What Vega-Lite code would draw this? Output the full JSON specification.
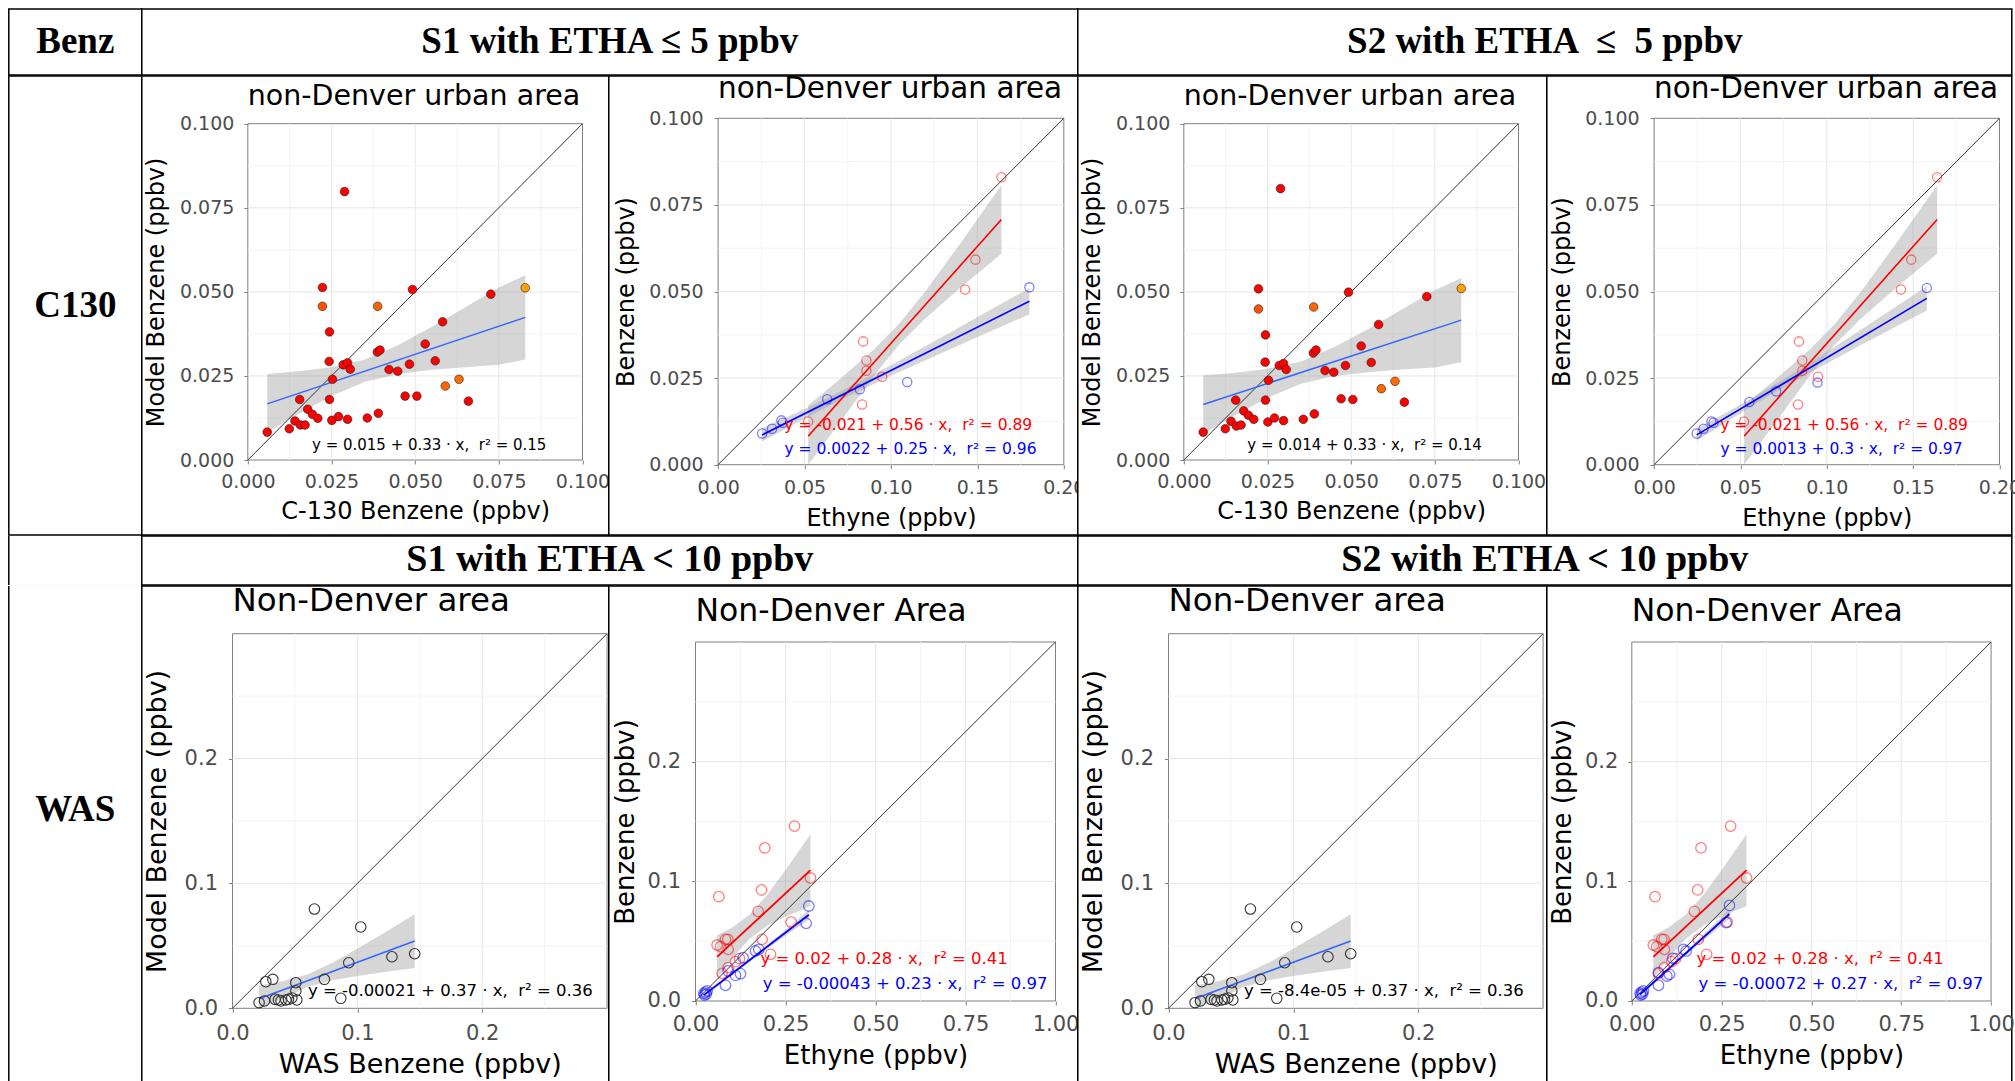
{
"$schema": "https://vega.github.io/schema/vega-lite/v6.json",
"background": "white",
"padding": {"left": 7.8, "top": 8, "right": 0, "bottom": 0},
"spacing": -6,
"config": {
  "font": "DejaVu Sans",
  "view": {"stroke": "#000000", "strokeWidth": 1.5, "fill": "white"},
  "axis": {"domain": false, "grid": false, "tickColor": "#7f7f7f", "tickSize": 4, "tickWidth": 1, "labelColor": "#4d4d4d", "labelFont": "DejaVu Sans", "titleFont": "DejaVu Sans", "titleFontWeight": "normal", "titleColor": "#000000", "labelFlush": false, "labelOverlap": false},
  "title": {"font": "DejaVu Sans", "fontWeight": "normal", "color": "#000000", "anchor": "start", "frame": "group", "baseline": "alphabetic"}
},
"datasets": {
  "g1": [{"v":0.0125,"k":"minor"},{"v":0.025,"k":"major"},{"v":0.0375,"k":"minor"},{"v":0.05,"k":"major"},{"v":0.0625,"k":"minor"},{"v":0.075,"k":"major"},{"v":0.0875,"k":"minor"}],
  "g2x": [{"v":0.025,"k":"minor"},{"v":0.05,"k":"major"},{"v":0.075,"k":"minor"},{"v":0.1,"k":"major"},{"v":0.125,"k":"minor"},{"v":0.15,"k":"major"},{"v":0.175,"k":"minor"}],
  "g5": [{"v":0.05,"k":"minor"},{"v":0.1,"k":"major"},{"v":0.15,"k":"minor"},{"v":0.2,"k":"major"},{"v":0.25,"k":"minor"}],
  "g6x": [{"v":0.125,"k":"minor"},{"v":0.25,"k":"major"},{"v":0.375,"k":"minor"},{"v":0.5,"k":"major"},{"v":0.625,"k":"minor"},{"v":0.75,"k":"major"},{"v":0.875,"k":"minor"}],
  "p1": [{"x":0.0058,"y":0.0083,"z":0},{"x":0.0124,"y":0.0093,"z":0},{"x":0.0141,"y":0.0116,"z":0},{"x":0.0155,"y":0.0180,"z":0},{"x":0.0157,"y":0.0104,"z":0},{"x":0.0171,"y":0.0104,"z":0},{"x":0.0179,"y":0.0151,"z":0},{"x":0.0193,"y":0.0136,"z":0},{"x":0.0209,"y":0.0124,"z":0},{"x":0.0223,"y":0.0513,"z":0},{"x":0.0223,"y":0.0457,"z":0.3},{"x":0.0244,"y":0.0381,"z":0},{"x":0.0243,"y":0.0293,"z":0},{"x":0.0244,"y":0.0180,"z":0},{"x":0.0253,"y":0.0240,"z":0},{"x":0.0251,"y":0.0118,"z":0},{"x":0.0271,"y":0.0129,"z":0},{"x":0.0289,"y":0.0798,"z":0},{"x":0.0285,"y":0.0283,"z":0},{"x":0.0298,"y":0.0289,"z":0},{"x":0.0306,"y":0.0270,"z":0},{"x":0.0298,"y":0.0121,"z":0},{"x":0.0357,"y":0.0125,"z":0},{"x":0.0388,"y":0.0457,"z":0.45},{"x":0.0387,"y":0.0321,"z":0},{"x":0.0395,"y":0.0327,"z":0},{"x":0.0390,"y":0.0139,"z":0},{"x":0.0422,"y":0.0269,"z":0},{"x":0.0448,"y":0.0264,"z":0},{"x":0.0470,"y":0.0190,"z":0},{"x":0.0483,"y":0.0285,"z":0},{"x":0.0492,"y":0.0507,"z":0},{"x":0.0505,"y":0.0190,"z":0},{"x":0.0530,"y":0.0345,"z":0},{"x":0.0560,"y":0.0295,"z":0},{"x":0.0582,"y":0.0411,"z":0},{"x":0.0590,"y":0.0220,"z":0.45},{"x":0.0631,"y":0.0240,"z":0.5},{"x":0.0659,"y":0.0175,"z":0},{"x":0.0726,"y":0.0493,"z":0},{"x":0.0829,"y":0.0512,"z":1}],
  "p3": [{"x":0.0058,"y":0.0083,"z":0},{"x":0.0124,"y":0.0093,"z":0},{"x":0.0141,"y":0.0115,"z":0},{"x":0.0155,"y":0.0178,"z":0},{"x":0.0157,"y":0.0101,"z":0},{"x":0.0171,"y":0.0104,"z":0},{"x":0.0179,"y":0.0146,"z":0},{"x":0.0193,"y":0.0133,"z":0},{"x":0.0209,"y":0.0121,"z":0},{"x":0.0223,"y":0.0509,"z":0},{"x":0.0223,"y":0.0449,"z":0.3},{"x":0.0244,"y":0.0372,"z":0},{"x":0.0243,"y":0.0291,"z":0},{"x":0.0244,"y":0.0178,"z":0},{"x":0.0253,"y":0.0237,"z":0},{"x":0.0251,"y":0.0113,"z":0},{"x":0.0271,"y":0.0125,"z":0},{"x":0.0289,"y":0.0807,"z":0},{"x":0.0285,"y":0.0281,"z":0},{"x":0.0298,"y":0.0287,"z":0},{"x":0.0306,"y":0.0269,"z":0},{"x":0.0298,"y":0.0117,"z":0},{"x":0.0357,"y":0.0121,"z":0},{"x":0.0388,"y":0.0455,"z":0.45},{"x":0.0387,"y":0.0318,"z":0},{"x":0.0395,"y":0.0327,"z":0},{"x":0.0390,"y":0.0137,"z":0},{"x":0.0422,"y":0.0266,"z":0},{"x":0.0448,"y":0.0261,"z":0},{"x":0.0470,"y":0.0182,"z":0},{"x":0.0483,"y":0.0281,"z":0},{"x":0.0492,"y":0.0499,"z":0},{"x":0.0505,"y":0.0180,"z":0},{"x":0.0530,"y":0.0339,"z":0},{"x":0.0560,"y":0.0290,"z":0},{"x":0.0582,"y":0.0403,"z":0},{"x":0.0590,"y":0.0212,"z":0.45},{"x":0.0631,"y":0.0234,"z":0.5},{"x":0.0659,"y":0.0172,"z":0},{"x":0.0726,"y":0.0486,"z":0},{"x":0.0829,"y":0.0510,"z":1}],
  "p2c": [{"g":"red","x":0.0521,"y":0.0125},{"g":"red","x":0.0833,"y":0.0174},{"g":"red","x":0.0839,"y":0.0356},{"g":"red","x":0.0858,"y":0.0301},{"g":"red","x":0.0858,"y":0.0271},{"g":"red","x":0.0949,"y":0.0254},{"g":"red","x":0.1429,"y":0.0506},{"g":"red","x":0.1489,"y":0.0592},{"g":"red","x":0.1639,"y":0.0830},{"g":"blue","x":0.0255,"y":0.0090},{"g":"blue","x":0.0312,"y":0.0104},{"g":"blue","x":0.0366,"y":0.0128},{"g":"blue","x":0.0374,"y":0.0121},{"g":"blue","x":0.0631,"y":0.0189},{"g":"blue","x":0.0820,"y":0.0218},{"g":"blue","x":0.1094,"y":0.0239},{"g":"blue","x":0.1801,"y":0.0512}],
  "p4c": [{"g":"red","x":0.0521,"y":0.0125},{"g":"red","x":0.0833,"y":0.0174},{"g":"red","x":0.0839,"y":0.0356},{"g":"red","x":0.0858,"y":0.0301},{"g":"red","x":0.0858,"y":0.0271},{"g":"red","x":0.0949,"y":0.0254},{"g":"red","x":0.1429,"y":0.0506},{"g":"red","x":0.1489,"y":0.0592},{"g":"red","x":0.1639,"y":0.0830},{"g":"blue","x":0.0247,"y":0.0090},{"g":"blue","x":0.0286,"y":0.0104},{"g":"blue","x":0.0332,"y":0.0125},{"g":"blue","x":0.0344,"y":0.0121},{"g":"blue","x":0.0552,"y":0.0181},{"g":"blue","x":0.0707,"y":0.0212},{"g":"blue","x":0.0946,"y":0.0237},{"g":"blue","x":0.1579,"y":0.0510}],
  "p57": [{"x":0.0213,"y":0.0045},{"x":0.0256,"y":0.0059},{"x":0.0267,"y":0.0213},{"x":0.0323,"y":0.0232},{"x":0.0341,"y":0.0072},{"x":0.0368,"y":0.0067},{"x":0.0389,"y":0.0059},{"x":0.0427,"y":0.0067},{"x":0.0448,"y":0.0072},{"x":0.0475,"y":0.0083},{"x":0.0507,"y":0.0205},{"x":0.0507,"y":0.0139},{"x":0.0515,"y":0.0067},{"x":0.0656,"y":0.0795},{"x":0.0736,"y":0.0232},{"x":0.0867,"y":0.0080},{"x":0.0931,"y":0.0365},{"x":0.1027,"y":0.0651},{"x":0.1277,"y":0.0413},{"x":0.1459,"y":0.0437}],
  "p57b": [{"x":0.0213,"lo":0.0,"hi":0.0183},{"x":0.04,"lo":0.0076,"hi":0.0216},{"x":0.06,"lo":0.0170,"hi":0.0270},{"x":0.08,"lo":0.0224,"hi":0.0364},{"x":0.10,"lo":0.0259,"hi":0.0477},{"x":0.12,"lo":0.0288,"hi":0.0596},{"x":0.1459,"lo":0.0323,"hi":0.0753}],
  "p6c": [{"g":"red","x":0.0648,"y":0.0872},{"g":"red","x":0.0600,"y":0.0468},{"g":"red","x":0.0694,"y":0.0454},{"g":"red","x":0.0833,"y":0.0515},{"g":"red","x":0.0898,"y":0.0515},{"g":"red","x":0.0907,"y":0.0432},{"g":"red","x":0.0741,"y":0.0231},{"g":"red","x":0.0907,"y":0.0279},{"g":"red","x":0.1111,"y":0.0329},{"g":"red","x":0.1222,"y":0.0354},{"g":"red","x":0.1741,"y":0.0749},{"g":"red","x":0.1833,"y":0.0928},{"g":"red","x":0.1926,"y":0.1279},{"g":"red","x":0.1852,"y":0.0515},{"g":"red","x":0.2083,"y":0.0390},{"g":"red","x":0.2657,"y":0.0660},{"g":"red","x":0.2750,"y":0.1462},{"g":"red","x":0.3194,"y":0.1028},{"g":"blue","x":0.0231,"y":0.0064},{"g":"blue","x":0.0278,"y":0.0075},{"g":"blue","x":0.0324,"y":0.0084},{"g":"blue","x":0.0250,"y":0.0050},{"g":"blue","x":0.0300,"y":0.0058},{"g":"blue","x":0.0833,"y":0.0131},{"g":"blue","x":0.0907,"y":0.0251},{"g":"blue","x":0.1111,"y":0.0214},{"g":"blue","x":0.1250,"y":0.0228},{"g":"blue","x":0.1324,"y":0.0362},{"g":"blue","x":0.1667,"y":0.0418},{"g":"blue","x":0.1759,"y":0.0432},{"g":"blue","x":0.3074,"y":0.0649},{"g":"blue","x":0.3148,"y":0.0794}],
  "p8c": [{"g":"red","x":0.0648,"y":0.0872},{"g":"red","x":0.0600,"y":0.0468},{"g":"red","x":0.0694,"y":0.0454},{"g":"red","x":0.0833,"y":0.0515},{"g":"red","x":0.0898,"y":0.0515},{"g":"red","x":0.0907,"y":0.0432},{"g":"red","x":0.0741,"y":0.0231},{"g":"red","x":0.0907,"y":0.0279},{"g":"red","x":0.1111,"y":0.0329},{"g":"red","x":0.1222,"y":0.0354},{"g":"red","x":0.1741,"y":0.0749},{"g":"red","x":0.1833,"y":0.0928},{"g":"red","x":0.1926,"y":0.1279},{"g":"red","x":0.1852,"y":0.0515},{"g":"red","x":0.2083,"y":0.0390},{"g":"red","x":0.2657,"y":0.0660},{"g":"red","x":0.2750,"y":0.1462},{"g":"red","x":0.3194,"y":0.1028},{"g":"blue","x":0.0231,"y":0.0064},{"g":"blue","x":0.0278,"y":0.0075},{"g":"blue","x":0.0324,"y":0.0084},{"g":"blue","x":0.0250,"y":0.0050},{"g":"blue","x":0.0300,"y":0.0058},{"g":"blue","x":0.0742,"y":0.0131},{"g":"blue","x":0.0742,"y":0.0237},{"g":"blue","x":0.0974,"y":0.0209},{"g":"blue","x":0.1048,"y":0.0223},{"g":"blue","x":0.1141,"y":0.0357},{"g":"blue","x":0.1438,"y":0.0432},{"g":"blue","x":0.1512,"y":0.0418},{"g":"blue","x":0.2625,"y":0.0655},{"g":"blue","x":0.2718,"y":0.0799}]
},
"vconcat": [
 {"hconcat": [
   {"width": 133, "height": 66, "data": {"values": [{"t": "Benz"}]}, "mark": {"type": "text", "font": "Liberation Serif", "fontWeight": "bold", "fontSize": 37, "align": "center", "baseline": "middle"},
    "encoding": {"text": {"field": "t"}, "x": {"datum": 0.5, "type": "quantitative", "scale": {"domain": [0, 1]}, "axis": null}, "y": {"datum": 0.5, "type": "quantitative", "scale": {"domain": [0, 1]}, "axis": null}}},
   {"width": 936, "height": 66, "data": {"values": [{"t": "S1 with ETHA ≤ 5 ppbv"}]}, "mark": {"type": "text", "font": "Liberation Serif", "fontWeight": "bold", "fontSize": 37, "align": "center", "baseline": "middle"},
    "encoding": {"text": {"field": "t"}, "x": {"datum": 0.5, "type": "quantitative", "scale": {"domain": [0, 1]}, "axis": null}, "y": {"datum": 0.5, "type": "quantitative", "scale": {"domain": [0, 1]}, "axis": null}}},
   {"width": 934, "height": 66, "data": {"values": [{"t": "S2 with ETHA \u00a0≤\u00a0 5 ppbv"}]}, "mark": {"type": "text", "font": "Liberation Serif", "fontWeight": "bold", "fontSize": 37, "align": "center", "baseline": "middle"},
    "encoding": {"text": {"field": "t"}, "x": {"datum": 0.5, "type": "quantitative", "scale": {"domain": [0, 1]}, "axis": null}, "y": {"datum": 0.5, "type": "quantitative", "scale": {"domain": [0, 1]}, "axis": null}}}
 ], "spacing": 0, "bounds": "flush"},
 {"hconcat": [
   {"width": 133, "height": 459, "data": {"values": [{"t": "C130"}]}, "mark": {"type": "text", "font": "Liberation Serif", "fontWeight": "bold", "fontSize": 37, "align": "center", "baseline": "middle"},
    "encoding": {"text": {"field": "t"}, "x": {"datum": 0.5, "type": "quantitative", "scale": {"domain": [0, 1]}, "axis": null}, "y": {"datum": 0.5, "type": "quantitative", "scale": {"domain": [0, 1]}, "axis": null}}},
   {"width": 467, "height": 459,
    "title": {"text": "non-Denver urban area", "dx": 106, "offset": -34.6, "fontSize": 28.5},
    "layer": [
     {"data": {"values": [{"x0": 0, "x1": 0.1, "y0": 0, "y1": 0.1}]}, "mark": {"type": "rect", "filled": false, "color": "#7f7f7f", "strokeWidth": 1},
      "encoding": {
       "x": {"field": "x0", "type": "quantitative", "scale": {"domain": [0, 0.1], "range": [106, 440.7], "nice": false, "zero": false}, "axis": {"title": "C-130 Benzene (ppbv)", "offset": -75, "values": [0, 0.025, 0.05, 0.075, 0.1], "format": ".3f", "labelFontSize": 19, "labelPadding": 8, "titleFontSize": 24, "titlePadding": 8.5}},
       "x2": {"field": "x1"},
       "y": {"field": "y0", "type": "quantitative", "scale": {"domain": [0, 0.1], "range": [384, 47.7], "nice": false, "zero": false}, "axis": {"title": "Model Benzene (ppbv)", "offset": -106, "values": [0, 0.025, 0.05, 0.075, 0.1], "format": ".3f", "labelFontSize": 19, "labelPadding": 10, "titleFontSize": 24, "titlePadding": 10.5}},
       "y2": {"field": "y1"}}},
     {"data": {"name": "g1"}, "mark": {"type": "rule", "strokeWidth": 1},
      "encoding": {"x": {"field": "v", "type": "quantitative"}, "y": {"datum": 0, "type": "quantitative"}, "y2": {"datum": 0.1}, "stroke": {"field": "k", "type": "nominal", "scale": {"domain": ["major", "minor"], "range": ["#e6e6e6", "#f3f3f3"]}, "legend": null}}},
     {"data": {"name": "g1"}, "mark": {"type": "rule", "strokeWidth": 1},
      "encoding": {"y": {"field": "v", "type": "quantitative"}, "x": {"datum": 0, "type": "quantitative"}, "x2": {"datum": 0.1}, "stroke": {"field": "k", "type": "nominal", "scale": {"domain": ["major", "minor"], "range": ["#e6e6e6", "#f3f3f3"]}, "legend": null}}},
     {"data": {"values": [{"x": 0.0058, "lo": 0.0082, "hi": 0.0256}, {"x": 0.015, "lo": 0.0136, "hi": 0.0264}, {"x": 0.025, "lo": 0.0190, "hi": 0.0276}, {"x": 0.035, "lo": 0.0233, "hi": 0.0299}, {"x": 0.045, "lo": 0.0256, "hi": 0.0342}, {"x": 0.055, "lo": 0.0268, "hi": 0.0396}, {"x": 0.065, "lo": 0.0276, "hi": 0.0454}, {"x": 0.075, "lo": 0.0283, "hi": 0.0513}, {"x": 0.0829, "lo": 0.0299, "hi": 0.0549}]},
      "mark": {"type": "area", "color": "#999999", "opacity": 0.4},
      "encoding": {"x": {"field": "x", "type": "quantitative"}, "y": {"field": "lo", "type": "quantitative"}, "y2": {"field": "hi"}}},
     {"data": {"values": [{"x": 0, "y": 0, "x2": 0.1, "y2": 0.1}]}, "mark": {"type": "rule", "color": "#333333", "strokeWidth": 1},
      "encoding": {"x": {"field": "x", "type": "quantitative"}, "y": {"field": "y", "type": "quantitative"}, "x2": {"field": "x2"}, "y2": {"field": "y2"}}},
     {"data": {"values": [{"x": 0.0058, "y": 0.0167}, {"x": 0.0829, "y": 0.0424}]}, "mark": {"type": "line", "color": "#3366ff", "strokeWidth": 1.5},
      "encoding": {"x": {"field": "x", "type": "quantitative"}, "y": {"field": "y", "type": "quantitative"}}},
     {"data": {"name": "p1"}, "mark": {"type": "point", "filled": true, "size": 75, "stroke": "#222222", "strokeWidth": 0.6, "opacity": 1},
      "encoding": {"x": {"field": "x", "type": "quantitative"}, "y": {"field": "y", "type": "quantitative"}, "fill": {"field": "z", "type": "quantitative", "scale": {"domain": [0, 1], "range": ["#ff0000", "#ffa000"]}, "legend": null}}},
     {"data": {"values": [{"x": 0.0542, "y": 0.0045, "t": "y = 0.015 + 0.33 · x,\u00a0 r² = 0.15"}]}, "mark": {"type": "text", "fontSize": 15, "align": "center", "baseline": "middle", "color": "#000000"},
      "encoding": {"x": {"field": "x", "type": "quantitative"}, "y": {"field": "y", "type": "quantitative"}, "text": {"field": "t"}}}
    ]},
   {"width": 469, "height": 459,
    "title": {"text": "non-Denver urban area", "dx": 109.3, "offset": -28.9, "fontSize": 29.5},
    "layer": [
     {"data": {"values": [{"x0": 0, "x1": 0.2, "y0": 0, "y1": 0.1}]}, "mark": {"type": "rect", "filled": false, "color": "#7f7f7f", "strokeWidth": 1},
      "encoding": {
       "x": {"field": "x0", "type": "quantitative", "scale": {"domain": [0, 0.2], "range": [109.3, 455], "nice": false, "zero": false}, "axis": {"title": "Ethyne (ppbv)", "offset": -70.3, "values": [0, 0.05, 0.1, 0.15, 0.2], "format": ".2f", "labelFontSize": 19, "labelPadding": 10, "titleFontSize": 24, "titlePadding": 8.7}},
       "x2": {"field": "x1"},
       "y": {"field": "y0", "type": "quantitative", "scale": {"domain": [0, 0.1], "range": [388.7, 42.3], "nice": false, "zero": false}, "axis": {"title": "Benzene (ppbv)", "offset": -109.3, "values": [0, 0.025, 0.05, 0.075, 0.1], "format": ".3f", "labelFontSize": 19, "labelPadding": 11, "titleFontSize": 24, "titlePadding": 10.5}},
       "y2": {"field": "y1"}}},
     {"data": {"name": "g2x"}, "mark": {"type": "rule", "strokeWidth": 1},
      "encoding": {"x": {"field": "v", "type": "quantitative"}, "y": {"datum": 0, "type": "quantitative"}, "y2": {"datum": 0.1}, "stroke": {"field": "k", "type": "nominal", "scale": {"domain": ["major", "minor"], "range": ["#e6e6e6", "#f3f3f3"]}, "legend": null}}},
     {"data": {"name": "g1"}, "mark": {"type": "rule", "strokeWidth": 1},
      "encoding": {"y": {"field": "v", "type": "quantitative"}, "x": {"datum": 0, "type": "quantitative"}, "x2": {"datum": 0.2}, "stroke": {"field": "k", "type": "nominal", "scale": {"domain": ["major", "minor"], "range": ["#e6e6e6", "#f3f3f3"]}, "legend": null}}},
     {"data": {"values": [{"g": "red", "x": 0.0521, "lo": 0.0, "hi": 0.0171}, {"g": "red", "x": 0.07, "lo": 0.0119, "hi": 0.0245}, {"g": "red", "x": 0.09, "lo": 0.0256, "hi": 0.0332}, {"g": "red", "x": 0.1046, "lo": 0.0346, "hi": 0.0406}, {"g": "red", "x": 0.12, "lo": 0.0423, "hi": 0.0501}, {"g": "red", "x": 0.14, "lo": 0.0510, "hi": 0.0638}, {"g": "red", "x": 0.1639, "lo": 0.0609, "hi": 0.0807}, {"g": "blue", "x": 0.0255, "lo": 0.0067, "hi": 0.0105}, {"g": "blue", "x": 0.05, "lo": 0.0133, "hi": 0.0161}, {"g": "blue", "x": 0.0707, "lo": 0.0187, "hi": 0.0211}, {"g": "blue", "x": 0.10, "lo": 0.0257, "hi": 0.0287}, {"g": "blue", "x": 0.13, "lo": 0.0324, "hi": 0.0370}, {"g": "blue", "x": 0.16, "lo": 0.0390, "hi": 0.0454}, {"g": "blue", "x": 0.1801, "lo": 0.0434, "hi": 0.0510}]},
      "mark": {"type": "area", "color": "#999999", "opacity": 0.4},
      "encoding": {"x": {"field": "x", "type": "quantitative"}, "y": {"field": "lo", "type": "quantitative"}, "y2": {"field": "hi"}, "detail": {"field": "g"}}},
     {"data": {"values": [{"x": 0, "y": 0, "x2": 0.2, "y2": 0.1}]}, "mark": {"type": "rule", "color": "#333333", "strokeWidth": 1},
      "encoding": {"x": {"field": "x", "type": "quantitative"}, "y": {"field": "y", "type": "quantitative"}, "x2": {"field": "x2"}, "y2": {"field": "y2"}}},
     {"data": {"values": [{"g": "red", "x": 0.0521, "y": 0.0082}, {"g": "red", "x": 0.1639, "y": 0.0708}, {"g": "blue", "x": 0.0255, "y": 0.0086}, {"g": "blue", "x": 0.1801, "y": 0.0472}]}, "mark": {"type": "line", "strokeWidth": 1.6},
      "encoding": {"x": {"field": "x", "type": "quantitative"}, "y": {"field": "y", "type": "quantitative"}, "color": {"field": "g", "type": "nominal", "scale": {"domain": ["red", "blue"], "range": ["#ff0000", "#0000ff"]}, "legend": null}}},
     {"data": {"name": "p2c"}, "mark": {"type": "point", "filled": false, "size": 85, "strokeWidth": 1.3, "opacity": 0.5},
      "encoding": {"x": {"field": "x", "type": "quantitative"}, "y": {"field": "y", "type": "quantitative"}, "color": {"field": "g", "type": "nominal", "scale": {"domain": ["red", "blue"], "range": ["#ff0000", "#0000ff"]}, "legend": null}}},
     {"data": {"values": [{"g": "red", "x": 0.110, "y": 0.0116, "t": "y = -0.021 + 0.56 · x,\u00a0 r² = 0.89"}, {"g": "blue", "x": 0.1113, "y": 0.0046, "t": "y = 0.0022 + 0.25 · x,\u00a0 r² = 0.96"}]}, "mark": {"type": "text", "fontSize": 15.5, "align": "center", "baseline": "middle"},
      "encoding": {"x": {"field": "x", "type": "quantitative"}, "y": {"field": "y", "type": "quantitative"}, "text": {"field": "t"}, "color": {"field": "g", "type": "nominal", "scale": {"domain": ["red", "blue"], "range": ["#ff0000", "#0000ff"]}, "legend": null}}}
    ]},
   {"width": 469, "height": 459,
    "title": {"text": "non-Denver urban area", "dx": 106, "offset": -34.6, "fontSize": 28.5},
    "layer": [
     {"data": {"values": [{"x0": 0, "x1": 0.1, "y0": 0, "y1": 0.1}]}, "mark": {"type": "rect", "filled": false, "color": "#7f7f7f", "strokeWidth": 1},
      "encoding": {
       "x": {"field": "x0", "type": "quantitative", "scale": {"domain": [0, 0.1], "range": [106, 440.7], "nice": false, "zero": false}, "axis": {"title": "C-130 Benzene (ppbv)", "offset": -75, "values": [0, 0.025, 0.05, 0.075, 0.1], "format": ".3f", "labelFontSize": 19, "labelPadding": 8, "titleFontSize": 24, "titlePadding": 8.5}},
       "x2": {"field": "x1"},
       "y": {"field": "y0", "type": "quantitative", "scale": {"domain": [0, 0.1], "range": [384, 47.7], "nice": false, "zero": false}, "axis": {"title": "Model Benzene (ppbv)", "offset": -106, "values": [0, 0.025, 0.05, 0.075, 0.1], "format": ".3f", "labelFontSize": 19, "labelPadding": 10, "titleFontSize": 24, "titlePadding": 10.5}},
       "y2": {"field": "y1"}}},
     {"data": {"name": "g1"}, "mark": {"type": "rule", "strokeWidth": 1},
      "encoding": {"x": {"field": "v", "type": "quantitative"}, "y": {"datum": 0, "type": "quantitative"}, "y2": {"datum": 0.1}, "stroke": {"field": "k", "type": "nominal", "scale": {"domain": ["major", "minor"], "range": ["#e6e6e6", "#f3f3f3"]}, "legend": null}}},
     {"data": {"name": "g1"}, "mark": {"type": "rule", "strokeWidth": 1},
      "encoding": {"y": {"field": "v", "type": "quantitative"}, "x": {"datum": 0, "type": "quantitative"}, "x2": {"datum": 0.1}, "stroke": {"field": "k", "type": "nominal", "scale": {"domain": ["major", "minor"], "range": ["#e6e6e6", "#f3f3f3"]}, "legend": null}}},
     {"data": {"values": [{"x": 0.0058, "lo": 0.0078, "hi": 0.0252}, {"x": 0.015, "lo": 0.0131, "hi": 0.0259}, {"x": 0.025, "lo": 0.0185, "hi": 0.0271}, {"x": 0.035, "lo": 0.0227, "hi": 0.0293}, {"x": 0.045, "lo": 0.0250, "hi": 0.0336}, {"x": 0.055, "lo": 0.0261, "hi": 0.0389}, {"x": 0.065, "lo": 0.0269, "hi": 0.0447}, {"x": 0.075, "lo": 0.0275, "hi": 0.0505}, {"x": 0.0829, "lo": 0.0291, "hi": 0.0541}]},
      "mark": {"type": "area", "color": "#999999", "opacity": 0.4},
      "encoding": {"x": {"field": "x", "type": "quantitative"}, "y": {"field": "lo", "type": "quantitative"}, "y2": {"field": "hi"}}},
     {"data": {"values": [{"x": 0, "y": 0, "x2": 0.1, "y2": 0.1}]}, "mark": {"type": "rule", "color": "#333333", "strokeWidth": 1},
      "encoding": {"x": {"field": "x", "type": "quantitative"}, "y": {"field": "y", "type": "quantitative"}, "x2": {"field": "x2"}, "y2": {"field": "y2"}}},
     {"data": {"values": [{"x": 0.0058, "y": 0.0165}, {"x": 0.0829, "y": 0.0416}]}, "mark": {"type": "line", "color": "#3366ff", "strokeWidth": 1.5},
      "encoding": {"x": {"field": "x", "type": "quantitative"}, "y": {"field": "y", "type": "quantitative"}}},
     {"data": {"name": "p3"}, "mark": {"type": "point", "filled": true, "size": 75, "stroke": "#222222", "strokeWidth": 0.6, "opacity": 1},
      "encoding": {"x": {"field": "x", "type": "quantitative"}, "y": {"field": "y", "type": "quantitative"}, "fill": {"field": "z", "type": "quantitative", "scale": {"domain": [0, 1], "range": ["#ff0000", "#ffa000"]}, "legend": null}}},
     {"data": {"values": [{"x": 0.054, "y": 0.0045, "t": "y = 0.014 + 0.33 · x,\u00a0 r² = 0.14"}]}, "mark": {"type": "text", "fontSize": 15, "align": "center", "baseline": "middle", "color": "#000000"},
      "encoding": {"x": {"field": "x", "type": "quantitative"}, "y": {"field": "y", "type": "quantitative"}, "text": {"field": "t"}}}
    ]},
   {"width": 465, "height": 459,
    "title": {"text": "non-Denver urban area", "dx": 107.3, "offset": -28.9, "fontSize": 29.5},
    "layer": [
     {"data": {"values": [{"x0": 0, "x1": 0.2, "y0": 0, "y1": 0.1}]}, "mark": {"type": "rect", "filled": false, "color": "#7f7f7f", "strokeWidth": 1},
      "encoding": {
       "x": {"field": "x0", "type": "quantitative", "scale": {"domain": [0, 0.2], "range": [107.3, 452.7], "nice": false, "zero": false}, "axis": {"title": "Ethyne (ppbv)", "offset": -70.3, "values": [0, 0.05, 0.1, 0.15, 0.2], "format": ".2f", "labelFontSize": 19, "labelPadding": 10, "titleFontSize": 24, "titlePadding": 8.7}},
       "x2": {"field": "x1"},
       "y": {"field": "y0", "type": "quantitative", "scale": {"domain": [0, 0.1], "range": [388.7, 42.3], "nice": false, "zero": false}, "axis": {"title": "Benzene (ppbv)", "offset": -107.3, "values": [0, 0.025, 0.05, 0.075, 0.1], "format": ".3f", "labelFontSize": 19, "labelPadding": 11, "titleFontSize": 24, "titlePadding": 10.5}},
       "y2": {"field": "y1"}}},
     {"data": {"name": "g2x"}, "mark": {"type": "rule", "strokeWidth": 1},
      "encoding": {"x": {"field": "v", "type": "quantitative"}, "y": {"datum": 0, "type": "quantitative"}, "y2": {"datum": 0.1}, "stroke": {"field": "k", "type": "nominal", "scale": {"domain": ["major", "minor"], "range": ["#e6e6e6", "#f3f3f3"]}, "legend": null}}},
     {"data": {"name": "g1"}, "mark": {"type": "rule", "strokeWidth": 1},
      "encoding": {"y": {"field": "v", "type": "quantitative"}, "x": {"datum": 0, "type": "quantitative"}, "x2": {"datum": 0.2}, "stroke": {"field": "k", "type": "nominal", "scale": {"domain": ["major", "minor"], "range": ["#e6e6e6", "#f3f3f3"]}, "legend": null}}},
     {"data": {"values": [{"g": "red", "x": 0.0521, "lo": 0.0, "hi": 0.0171}, {"g": "red", "x": 0.07, "lo": 0.0119, "hi": 0.0245}, {"g": "red", "x": 0.09, "lo": 0.0256, "hi": 0.0332}, {"g": "red", "x": 0.1046, "lo": 0.0346, "hi": 0.0406}, {"g": "red", "x": 0.12, "lo": 0.0423, "hi": 0.0501}, {"g": "red", "x": 0.14, "lo": 0.0510, "hi": 0.0638}, {"g": "red", "x": 0.1639, "lo": 0.0609, "hi": 0.0807}, {"g": "blue", "x": 0.0247, "lo": 0.0069, "hi": 0.0103}, {"g": "blue", "x": 0.045, "lo": 0.0133, "hi": 0.0159}, {"g": "blue", "x": 0.0624, "lo": 0.0187, "hi": 0.0209}, {"g": "blue", "x": 0.09, "lo": 0.0265, "hi": 0.0293}, {"g": "blue", "x": 0.12, "lo": 0.0346, "hi": 0.0390}, {"g": "blue", "x": 0.1579, "lo": 0.0445, "hi": 0.0515}]},
      "mark": {"type": "area", "color": "#999999", "opacity": 0.4},
      "encoding": {"x": {"field": "x", "type": "quantitative"}, "y": {"field": "lo", "type": "quantitative"}, "y2": {"field": "hi"}, "detail": {"field": "g"}}},
     {"data": {"values": [{"x": 0, "y": 0, "x2": 0.2, "y2": 0.1}]}, "mark": {"type": "rule", "color": "#333333", "strokeWidth": 1},
      "encoding": {"x": {"field": "x", "type": "quantitative"}, "y": {"field": "y", "type": "quantitative"}, "x2": {"field": "x2"}, "y2": {"field": "y2"}}},
     {"data": {"values": [{"g": "red", "x": 0.0521, "y": 0.0082}, {"g": "red", "x": 0.1639, "y": 0.0708}, {"g": "blue", "x": 0.0247, "y": 0.0086}, {"g": "blue", "x": 0.1579, "y": 0.0480}]}, "mark": {"type": "line", "strokeWidth": 1.6},
      "encoding": {"x": {"field": "x", "type": "quantitative"}, "y": {"field": "y", "type": "quantitative"}, "color": {"field": "g", "type": "nominal", "scale": {"domain": ["red", "blue"], "range": ["#ff0000", "#0000ff"]}, "legend": null}}},
     {"data": {"name": "p4c"}, "mark": {"type": "point", "filled": false, "size": 85, "strokeWidth": 1.3, "opacity": 0.5},
      "encoding": {"x": {"field": "x", "type": "quantitative"}, "y": {"field": "y", "type": "quantitative"}, "color": {"field": "g", "type": "nominal", "scale": {"domain": ["red", "blue"], "range": ["#ff0000", "#0000ff"]}, "legend": null}}},
     {"data": {"values": [{"g": "red", "x": 0.110, "y": 0.0116, "t": "y = -0.021 + 0.56 · x,\u00a0 r² = 0.89"}, {"g": "blue", "x": 0.1085, "y": 0.0046, "t": "y = 0.0013 + 0.3 · x,\u00a0 r² = 0.97"}]}, "mark": {"type": "text", "fontSize": 15.5, "align": "center", "baseline": "middle"},
      "encoding": {"x": {"field": "x", "type": "quantitative"}, "y": {"field": "y", "type": "quantitative"}, "text": {"field": "t"}, "color": {"field": "g", "type": "nominal", "scale": {"domain": ["red", "blue"], "range": ["#ff0000", "#0000ff"]}, "legend": null}}}
    ]}
 ], "spacing": 0, "bounds": "flush"},
 {"hconcat": [
   {"width": 133, "height": 49, "view": {"stroke": "#000000", "strokeOpacity": 0.01}, "data": {"values": [{"t": ""}]}, "mark": {"type": "text"},
    "encoding": {"text": {"field": "t"}, "x": {"datum": 0.5, "type": "quantitative", "scale": {"domain": [0, 1]}, "axis": null}, "y": {"datum": 0.5, "type": "quantitative", "scale": {"domain": [0, 1]}, "axis": {"domain": true, "domainColor": "#000000", "domainWidth": 1.5, "translate": 0, "ticks": false, "labels": false, "grid": false, "title": null}}}},
   {"width": 936, "height": 49, "data": {"values": [{"t": "S1 with ETHA < 10 ppbv"}]}, "mark": {"type": "text", "font": "Liberation Serif", "fontWeight": "bold", "fontSize": 38, "align": "center", "baseline": "middle"},
    "encoding": {"text": {"field": "t"}, "x": {"datum": 0.5, "type": "quantitative", "scale": {"domain": [0, 1]}, "axis": null}, "y": {"datum": 0.5, "type": "quantitative", "scale": {"domain": [0, 1]}, "axis": null}}},
   {"width": 934, "height": 49, "data": {"values": [{"t": "S2 with ETHA < 10 ppbv"}]}, "mark": {"type": "text", "font": "Liberation Serif", "fontWeight": "bold", "fontSize": 38, "align": "center", "baseline": "middle"},
    "encoding": {"text": {"field": "t"}, "x": {"datum": 0.5, "type": "quantitative", "scale": {"domain": [0, 1]}, "axis": null}, "y": {"datum": 0.5, "type": "quantitative", "scale": {"domain": [0, 1]}, "axis": null}}}
 ], "spacing": 0, "bounds": "flush"},
 {"hconcat": [
   {"width": 133, "height": 497, "view": {"stroke": "#000000", "strokeOpacity": 0.01}, "data": {"values": [{"t": "WAS"}]}, "mark": {"type": "text", "font": "Liberation Serif", "fontWeight": "bold", "fontSize": 37, "align": "center", "baseline": "middle", "dy": -24.5},
    "encoding": {"text": {"field": "t"}, "x": {"datum": 0.5, "type": "quantitative", "scale": {"domain": [0, 1]}, "axis": null}, "y": {"datum": 0.5, "type": "quantitative", "scale": {"domain": [0, 1]}, "axis": {"domain": true, "domainColor": "#000000", "domainWidth": 1.5, "translate": 0, "ticks": false, "labels": false, "grid": false, "title": null}}}},
   {"width": 467, "height": 497,
    "title": {"text": "Non-Denver area", "dx": 90.7, "offset": -31.9, "fontSize": 32.5},
    "layer": [
     {"data": {"values": [{"x0": 0, "x1": 0.3, "y0": 0, "y1": 0.3}]}, "mark": {"type": "rect", "filled": false, "color": "#7f7f7f", "strokeWidth": 1},
      "encoding": {
       "x": {"field": "x0", "type": "quantitative", "scale": {"domain": [0, 0.3], "range": [90.7, 465.3], "nice": false, "zero": false}, "axis": {"title": "WAS Benzene (ppbv)", "offset": -74.7, "values": [0, 0.1, 0.2], "format": ".1f", "labelFontSize": 21, "labelPadding": 10, "titleFontSize": 27, "titlePadding": 8.7}},
       "x2": {"field": "x1"},
       "y": {"field": "y0", "type": "quantitative", "scale": {"domain": [0, 0.3], "range": [422.3, 47.7], "nice": false, "zero": false}, "axis": {"title": "Model Benzene (ppbv)", "offset": -90.7, "values": [0, 0.1, 0.2], "format": ".1f", "labelFontSize": 21, "labelPadding": 11, "titleFontSize": 27, "titlePadding": 13}},
       "y2": {"field": "y1"}}},
     {"data": {"name": "g5"}, "mark": {"type": "rule", "strokeWidth": 1},
      "encoding": {"x": {"field": "v", "type": "quantitative"}, "y": {"datum": 0, "type": "quantitative"}, "y2": {"datum": 0.3}, "stroke": {"field": "k", "type": "nominal", "scale": {"domain": ["major", "minor"], "range": ["#e6e6e6", "#f3f3f3"]}, "legend": null}}},
     {"data": {"name": "g5"}, "mark": {"type": "rule", "strokeWidth": 1},
      "encoding": {"y": {"field": "v", "type": "quantitative"}, "x": {"datum": 0, "type": "quantitative"}, "x2": {"datum": 0.3}, "stroke": {"field": "k", "type": "nominal", "scale": {"domain": ["major", "minor"], "range": ["#e6e6e6", "#f3f3f3"]}, "legend": null}}},
     {"data": {"name": "p57b"}, "mark": {"type": "area", "color": "#999999", "opacity": 0.4},
      "encoding": {"x": {"field": "x", "type": "quantitative"}, "y": {"field": "lo", "type": "quantitative"}, "y2": {"field": "hi"}}},
     {"data": {"values": [{"x": 0, "y": 0, "x2": 0.3, "y2": 0.3}]}, "mark": {"type": "rule", "color": "#333333", "strokeWidth": 1},
      "encoding": {"x": {"field": "x", "type": "quantitative"}, "y": {"field": "y", "type": "quantitative"}, "x2": {"field": "x2"}, "y2": {"field": "y2"}}},
     {"data": {"values": [{"x": 0.0213, "y": 0.0077}, {"x": 0.1459, "y": 0.0538}]}, "mark": {"type": "line", "color": "#3366ff", "strokeWidth": 1.6},
      "encoding": {"x": {"field": "x", "type": "quantitative"}, "y": {"field": "y", "type": "quantitative"}}},
     {"data": {"name": "p57"}, "mark": {"type": "point", "filled": false, "size": 110, "strokeWidth": 1.1, "opacity": 1, "color": "#333333"},
      "encoding": {"x": {"field": "x", "type": "quantitative"}, "y": {"field": "y", "type": "quantitative"}}},
     {"data": {"values": [{"x": 0.1744, "y": 0.0139, "t": "y = -0.00021 + 0.37 · x,\u00a0 r² = 0.36"}]}, "mark": {"type": "text", "fontSize": 16.5, "align": "center", "baseline": "middle", "color": "#000000"},
      "encoding": {"x": {"field": "x", "type": "quantitative"}, "y": {"field": "y", "type": "quantitative"}, "text": {"field": "t"}}}
    ]},
   {"width": 469, "height": 497,
    "title": {"text": "Non-Denver Area", "dx": 86.7, "offset": -41.5, "fontSize": 31.5},
    "layer": [
     {"data": {"values": [{"x0": 0, "x1": 1, "y0": 0, "y1": 0.3}]}, "mark": {"type": "rect", "filled": false, "color": "#7f7f7f", "strokeWidth": 1},
      "encoding": {
       "x": {"field": "x0", "type": "quantitative", "scale": {"domain": [0, 1], "range": [86.7, 446.7], "nice": false, "zero": false}, "axis": {"title": "Ethyne (ppbv)", "offset": -82, "values": [0, 0.25, 0.5, 0.75, 1], "format": ".2f", "labelFontSize": 21, "labelPadding": 9, "titleFontSize": 26, "titlePadding": 8}},
       "x2": {"field": "x1"},
       "y": {"field": "y0", "type": "quantitative", "scale": {"domain": [0, 0.3], "range": [415, 56], "nice": false, "zero": false}, "axis": {"title": "Benzene (ppbv)", "offset": -86.7, "values": [0, 0.1, 0.2], "format": ".1f", "labelFontSize": 21, "labelPadding": 11, "titleFontSize": 26, "titlePadding": 9}},
       "y2": {"field": "y1"}}},
     {"data": {"name": "g6x"}, "mark": {"type": "rule", "strokeWidth": 1},
      "encoding": {"x": {"field": "v", "type": "quantitative"}, "y": {"datum": 0, "type": "quantitative"}, "y2": {"datum": 0.3}, "stroke": {"field": "k", "type": "nominal", "scale": {"domain": ["major", "minor"], "range": ["#e6e6e6", "#f3f3f3"]}, "legend": null}}},
     {"data": {"name": "g5"}, "mark": {"type": "rule", "strokeWidth": 1},
      "encoding": {"y": {"field": "v", "type": "quantitative"}, "x": {"datum": 0, "type": "quantitative"}, "x2": {"datum": 1}, "stroke": {"field": "k", "type": "nominal", "scale": {"domain": ["major", "minor"], "range": ["#e6e6e6", "#f3f3f3"]}, "legend": null}}},
     {"data": {"values": [{"g": "red", "x": 0.060, "lo": 0.0187, "hi": 0.0549}, {"g": "red", "x": 0.10, "lo": 0.035, "hi": 0.061}, {"g": "red", "x": 0.15, "lo": 0.052, "hi": 0.072}, {"g": "red", "x": 0.20, "lo": 0.063, "hi": 0.089}, {"g": "red", "x": 0.25, "lo": 0.0705, "hi": 0.1095}, {"g": "red", "x": 0.3194, "lo": 0.0794, "hi": 0.1394}, {"g": "blue", "x": 0.0231, "lo": 0.0029, "hi": 0.0069}, {"g": "blue", "x": 0.10, "lo": 0.0214, "hi": 0.0238}, {"g": "blue", "x": 0.17, "lo": 0.0374, "hi": 0.0400}, {"g": "blue", "x": 0.25, "lo": 0.0546, "hi": 0.0596}, {"g": "blue", "x": 0.3148, "lo": 0.0680, "hi": 0.0760}]},
      "mark": {"type": "area", "color": "#999999", "opacity": 0.4},
      "encoding": {"x": {"field": "x", "type": "quantitative"}, "y": {"field": "lo", "type": "quantitative"}, "y2": {"field": "hi"}, "detail": {"field": "g"}}},
     {"data": {"values": [{"x": 0, "y": 0, "x2": 1, "y2": 0.3}]}, "mark": {"type": "rule", "color": "#333333", "strokeWidth": 1},
      "encoding": {"x": {"field": "x", "type": "quantitative"}, "y": {"field": "y", "type": "quantitative"}, "x2": {"field": "x2"}, "y2": {"field": "y2"}}},
     {"data": {"values": [{"g": "red", "x": 0.060, "y": 0.0368}, {"g": "red", "x": 0.3194, "y": 0.1094}, {"g": "blue", "x": 0.0231, "y": 0.0049}, {"g": "blue", "x": 0.3148, "y": 0.0720}]}, "mark": {"type": "line", "strokeWidth": 1.8},
      "encoding": {"x": {"field": "x", "type": "quantitative"}, "y": {"field": "y", "type": "quantitative"}, "color": {"field": "g", "type": "nominal", "scale": {"domain": ["red", "blue"], "range": ["#ff0000", "#0000ff"]}, "legend": null}}},
     {"data": {"name": "p6c"}, "mark": {"type": "point", "filled": false, "size": 110, "strokeWidth": 1.3, "opacity": 0.5},
      "encoding": {"x": {"field": "x", "type": "quantitative"}, "y": {"field": "y", "type": "quantitative"}, "color": {"field": "g", "type": "nominal", "scale": {"domain": ["red", "blue"], "range": ["#ff0000", "#0000ff"]}, "legend": null}}},
     {"data": {"values": [{"g": "red", "x": 0.524, "y": 0.0354, "t": "y = 0.02 + 0.28 · x,\u00a0 r² = 0.41"}, {"g": "blue", "x": 0.582, "y": 0.0139, "t": "y = -0.00043 + 0.23 · x,\u00a0 r² = 0.97"}]}, "mark": {"type": "text", "fontSize": 16.5, "align": "center", "baseline": "middle"},
      "encoding": {"x": {"field": "x", "type": "quantitative"}, "y": {"field": "y", "type": "quantitative"}, "text": {"field": "t"}, "color": {"field": "g", "type": "nominal", "scale": {"domain": ["red", "blue"], "range": ["#ff0000", "#0000ff"]}, "legend": null}}}
    ]},
   {"width": 469, "height": 497,
    "title": {"text": "Non-Denver area", "dx": 90.7, "offset": -31.9, "fontSize": 32.5},
    "layer": [
     {"data": {"values": [{"x0": 0, "x1": 0.3, "y0": 0, "y1": 0.3}]}, "mark": {"type": "rect", "filled": false, "color": "#7f7f7f", "strokeWidth": 1},
      "encoding": {
       "x": {"field": "x0", "type": "quantitative", "scale": {"domain": [0, 0.3], "range": [90.7, 465.3], "nice": false, "zero": false}, "axis": {"title": "WAS Benzene (ppbv)", "offset": -74.7, "values": [0, 0.1, 0.2], "format": ".1f", "labelFontSize": 21, "labelPadding": 10, "titleFontSize": 27, "titlePadding": 8.7}},
       "x2": {"field": "x1"},
       "y": {"field": "y0", "type": "quantitative", "scale": {"domain": [0, 0.3], "range": [422.3, 47.7], "nice": false, "zero": false}, "axis": {"title": "Model Benzene (ppbv)", "offset": -90.7, "values": [0, 0.1, 0.2], "format": ".1f", "labelFontSize": 21, "labelPadding": 11, "titleFontSize": 27, "titlePadding": 13}},
       "y2": {"field": "y1"}}},
     {"data": {"name": "g5"}, "mark": {"type": "rule", "strokeWidth": 1},
      "encoding": {"x": {"field": "v", "type": "quantitative"}, "y": {"datum": 0, "type": "quantitative"}, "y2": {"datum": 0.3}, "stroke": {"field": "k", "type": "nominal", "scale": {"domain": ["major", "minor"], "range": ["#e6e6e6", "#f3f3f3"]}, "legend": null}}},
     {"data": {"name": "g5"}, "mark": {"type": "rule", "strokeWidth": 1},
      "encoding": {"y": {"field": "v", "type": "quantitative"}, "x": {"datum": 0, "type": "quantitative"}, "x2": {"datum": 0.3}, "stroke": {"field": "k", "type": "nominal", "scale": {"domain": ["major", "minor"], "range": ["#e6e6e6", "#f3f3f3"]}, "legend": null}}},
     {"data": {"name": "p57b"}, "mark": {"type": "area", "color": "#999999", "opacity": 0.4},
      "encoding": {"x": {"field": "x", "type": "quantitative"}, "y": {"field": "lo", "type": "quantitative"}, "y2": {"field": "hi"}}},
     {"data": {"values": [{"x": 0, "y": 0, "x2": 0.3, "y2": 0.3}]}, "mark": {"type": "rule", "color": "#333333", "strokeWidth": 1},
      "encoding": {"x": {"field": "x", "type": "quantitative"}, "y": {"field": "y", "type": "quantitative"}, "x2": {"field": "x2"}, "y2": {"field": "y2"}}},
     {"data": {"values": [{"x": 0.0213, "y": 0.0078}, {"x": 0.1459, "y": 0.0539}]}, "mark": {"type": "line", "color": "#3366ff", "strokeWidth": 1.6},
      "encoding": {"x": {"field": "x", "type": "quantitative"}, "y": {"field": "y", "type": "quantitative"}}},
     {"data": {"name": "p57"}, "mark": {"type": "point", "filled": false, "size": 110, "strokeWidth": 1.1, "opacity": 1, "color": "#333333"},
      "encoding": {"x": {"field": "x", "type": "quantitative"}, "y": {"field": "y", "type": "quantitative"}}},
     {"data": {"values": [{"x": 0.1725, "y": 0.0139, "t": "y = -8.4e-05 + 0.37 · x,\u00a0 r² = 0.36"}]}, "mark": {"type": "text", "fontSize": 16.5, "align": "center", "baseline": "middle", "color": "#000000"},
      "encoding": {"x": {"field": "x", "type": "quantitative"}, "y": {"field": "y", "type": "quantitative"}, "text": {"field": "t"}}}
    ]},
   {"width": 465, "height": 497,
    "title": {"text": "Non-Denver Area", "dx": 85, "offset": -41.5, "fontSize": 31.5},
    "layer": [
     {"data": {"values": [{"x0": 0, "x1": 1, "y0": 0, "y1": 0.3}]}, "mark": {"type": "rect", "filled": false, "color": "#7f7f7f", "strokeWidth": 1},
      "encoding": {
       "x": {"field": "x0", "type": "quantitative", "scale": {"domain": [0, 1], "range": [85, 444.3], "nice": false, "zero": false}, "axis": {"title": "Ethyne (ppbv)", "offset": -82, "values": [0, 0.25, 0.5, 0.75, 1], "format": ".2f", "labelFontSize": 21, "labelPadding": 9, "titleFontSize": 26, "titlePadding": 8}},
       "x2": {"field": "x1"},
       "y": {"field": "y0", "type": "quantitative", "scale": {"domain": [0, 0.3], "range": [415, 56], "nice": false, "zero": false}, "axis": {"title": "Benzene (ppbv)", "offset": -85, "values": [0, 0.1, 0.2], "format": ".1f", "labelFontSize": 21, "labelPadding": 10, "titleFontSize": 26, "titlePadding": 9}},
       "y2": {"field": "y1"}}},
     {"data": {"name": "g6x"}, "mark": {"type": "rule", "strokeWidth": 1},
      "encoding": {"x": {"field": "v", "type": "quantitative"}, "y": {"datum": 0, "type": "quantitative"}, "y2": {"datum": 0.3}, "stroke": {"field": "k", "type": "nominal", "scale": {"domain": ["major", "minor"], "range": ["#e6e6e6", "#f3f3f3"]}, "legend": null}}},
     {"data": {"name": "g5"}, "mark": {"type": "rule", "strokeWidth": 1},
      "encoding": {"y": {"field": "v", "type": "quantitative"}, "x": {"datum": 0, "type": "quantitative"}, "x2": {"datum": 1}, "stroke": {"field": "k", "type": "nominal", "scale": {"domain": ["major", "minor"], "range": ["#e6e6e6", "#f3f3f3"]}, "legend": null}}},
     {"data": {"values": [{"g": "red", "x": 0.060, "lo": 0.0187, "hi": 0.0549}, {"g": "red", "x": 0.10, "lo": 0.035, "hi": 0.061}, {"g": "red", "x": 0.15, "lo": 0.052, "hi": 0.072}, {"g": "red", "x": 0.20, "lo": 0.063, "hi": 0.089}, {"g": "red", "x": 0.25, "lo": 0.0705, "hi": 0.1095}, {"g": "red", "x": 0.3194, "lo": 0.0794, "hi": 0.1394}, {"g": "blue", "x": 0.0231, "lo": 0.0035, "hi": 0.0075}, {"g": "blue", "x": 0.08, "lo": 0.0197, "hi": 0.0221}, {"g": "blue", "x": 0.14, "lo": 0.0359, "hi": 0.0383}, {"g": "blue", "x": 0.20, "lo": 0.0508, "hi": 0.0558}, {"g": "blue", "x": 0.2718, "lo": 0.0687, "hi": 0.0767}]},
      "mark": {"type": "area", "color": "#999999", "opacity": 0.4},
      "encoding": {"x": {"field": "x", "type": "quantitative"}, "y": {"field": "lo", "type": "quantitative"}, "y2": {"field": "hi"}, "detail": {"field": "g"}}},
     {"data": {"values": [{"x": 0, "y": 0, "x2": 1, "y2": 0.3}]}, "mark": {"type": "rule", "color": "#333333", "strokeWidth": 1},
      "encoding": {"x": {"field": "x", "type": "quantitative"}, "y": {"field": "y", "type": "quantitative"}, "x2": {"field": "x2"}, "y2": {"field": "y2"}}},
     {"data": {"values": [{"g": "red", "x": 0.060, "y": 0.0368}, {"g": "red", "x": 0.3194, "y": 0.1094}, {"g": "blue", "x": 0.0231, "y": 0.0055}, {"g": "blue", "x": 0.2718, "y": 0.0727}]}, "mark": {"type": "line", "strokeWidth": 1.8},
      "encoding": {"x": {"field": "x", "type": "quantitative"}, "y": {"field": "y", "type": "quantitative"}, "color": {"field": "g", "type": "nominal", "scale": {"domain": ["red", "blue"], "range": ["#ff0000", "#0000ff"]}, "legend": null}}},
     {"data": {"name": "p8c"}, "mark": {"type": "point", "filled": false, "size": 110, "strokeWidth": 1.3, "opacity": 0.5},
      "encoding": {"x": {"field": "x", "type": "quantitative"}, "y": {"field": "y", "type": "quantitative"}, "color": {"field": "g", "type": "nominal", "scale": {"domain": ["red", "blue"], "range": ["#ff0000", "#0000ff"]}, "legend": null}}},
     {"data": {"values": [{"g": "red", "x": 0.524, "y": 0.0354, "t": "y = 0.02 + 0.28 · x,\u00a0 r² = 0.41"}, {"g": "blue", "x": 0.5816, "y": 0.0139, "t": "y = -0.00072 + 0.27 · x,\u00a0 r² = 0.97"}]}, "mark": {"type": "text", "fontSize": 16.5, "align": "center", "baseline": "middle"},
      "encoding": {"x": {"field": "x", "type": "quantitative"}, "y": {"field": "y", "type": "quantitative"}, "text": {"field": "t"}, "color": {"field": "g", "type": "nominal", "scale": {"domain": ["red", "blue"], "range": ["#ff0000", "#0000ff"]}, "legend": null}}}
    ]}
 ], "spacing": 0, "bounds": "flush"}
]
}
